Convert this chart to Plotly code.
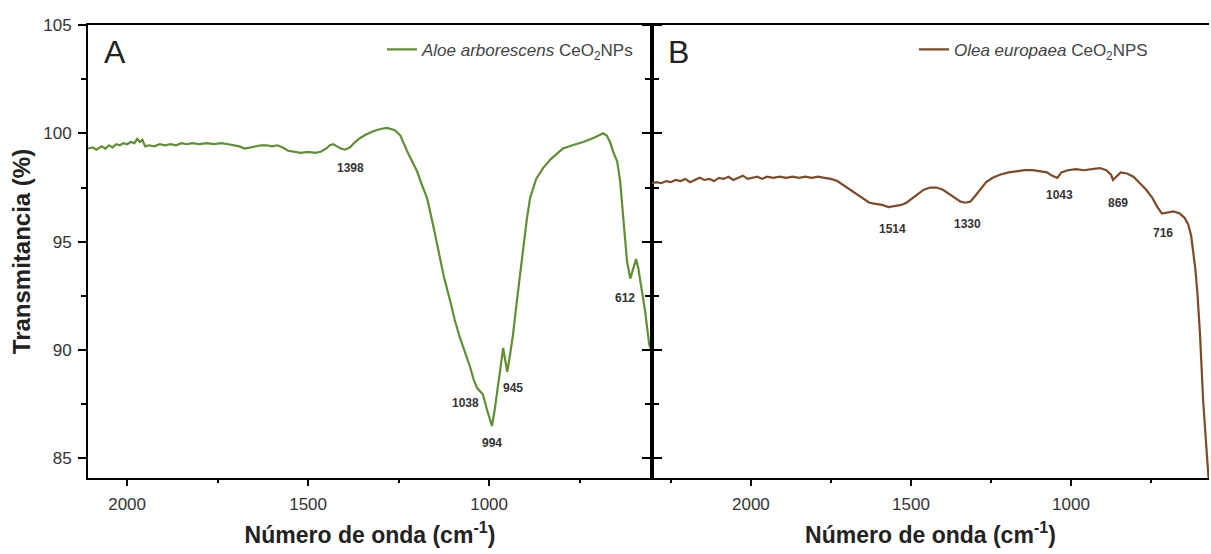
import plotly.graph_objects as go

# ---- Data: Aloe arborescens CeO2NPs (panel A) ----
wn_aloe = [2108, 2095, 2085, 2070, 2060, 2050, 2040, 2030, 2020, 2010, 2000, 1990, 1980,
           1972, 1965, 1958, 1950, 1940, 1925, 1910, 1895, 1880, 1865, 1850, 1835, 1820,
           1800, 1780, 1760, 1740, 1720, 1705, 1690, 1675, 1660, 1645, 1630, 1615, 1600,
           1585, 1570, 1555, 1540, 1520, 1500, 1480, 1465, 1450, 1440, 1430, 1420, 1410,
           1398, 1385, 1370, 1355, 1340, 1320, 1300, 1282, 1260, 1245, 1227, 1213, 1199,
           1185, 1171, 1155, 1141, 1125, 1108, 1095, 1080, 1066, 1052, 1042, 1033, 1025,
           1017, 1005, 992, 984, 975, 967, 961, 955, 950, 942, 934, 923, 914, 906, 896,
           887, 870, 851, 830, 810, 796, 770, 740, 710, 695, 685, 675, 666, 656, 646,
           638, 630, 619, 610, 602, 594, 588, 583, 576, 569, 558, 550]
t_aloe = [99.3, 99.35, 99.25, 99.4, 99.3, 99.45, 99.35, 99.5, 99.45, 99.55, 99.5, 99.6, 99.55,
          99.75, 99.6, 99.7, 99.4, 99.45, 99.4, 99.5, 99.45, 99.5, 99.45, 99.55, 99.5, 99.55,
          99.5, 99.55, 99.5, 99.55, 99.5, 99.45, 99.4, 99.3, 99.35, 99.4, 99.45, 99.45, 99.4,
          99.45, 99.35, 99.2, 99.15, 99.1, 99.15, 99.1, 99.15, 99.3, 99.45, 99.5, 99.4, 99.3,
          99.25, 99.35, 99.6, 99.8, 99.95, 100.1, 100.2, 100.25, 100.15, 99.9, 99.2, 98.7, 98.25,
          97.6, 97.0, 95.8, 94.6, 93.4, 92.3, 91.4, 90.55, 89.9, 89.2, 88.6, 88.25, 88.1,
          87.95, 87.2, 86.5, 87.3, 88.4, 89.4, 90.1, 89.5, 89.0, 89.8, 90.7, 92.3, 93.6, 94.6, 96.0,
          97.0, 97.9, 98.4, 98.8, 99.1, 99.3, 99.45, 99.6, 99.8, 99.9, 100.0, 99.9, 99.6, 99.1, 98.7,
          97.8, 96.1, 94.1, 93.3, 93.8, 94.2, 93.8, 93.3, 92.6, 91.8, 90.3, 89.8]

# ---- Data: Olea europaea CeO2NPS (panel B) ----
wn_olea = [2309, 2295, 2280, 2265, 2250, 2235, 2220, 2205, 2190, 2175, 2160, 2145, 2130,
           2115, 2100, 2085, 2070, 2055, 2040, 2025, 2010, 1995, 1980, 1965, 1950, 1930,
           1910, 1890, 1870, 1850, 1830, 1810, 1790, 1770, 1750, 1730, 1710, 1690, 1670,
           1650, 1630, 1610, 1590, 1570, 1550, 1530, 1514, 1500, 1480, 1460, 1440, 1420,
           1400, 1380, 1360, 1345, 1330, 1315, 1300, 1285, 1265, 1245, 1220, 1195, 1170,
           1145, 1120, 1095, 1075, 1060, 1043, 1030, 1010, 985, 960, 935, 910, 890, 875,
           869, 860, 845, 825, 805, 785, 765, 745, 730, 716, 700, 680, 660, 645, 634, 625,
           619, 612, 605, 597, 587, 580, 575, 570]
t_olea = [97.7, 97.75, 97.7, 97.8, 97.75, 97.85, 97.8, 97.9, 97.75, 97.85, 97.95, 97.85, 97.9,
          97.8, 97.95, 97.9, 98.0, 97.85, 97.95, 98.05, 97.9, 97.95, 98.0, 97.9, 98.0, 97.95,
          98.0, 97.95, 98.0, 97.95, 98.0, 97.95, 98.0, 97.95, 97.9, 97.8, 97.6, 97.4, 97.2,
          97.0, 96.8, 96.75, 96.7, 96.6, 96.65, 96.7, 96.8, 96.95, 97.2, 97.4, 97.5, 97.5,
          97.4, 97.2, 97.0, 96.85, 96.8, 96.85, 97.1, 97.4, 97.75, 97.95, 98.1, 98.2, 98.25,
          98.3, 98.3, 98.25, 98.2, 98.05, 97.95, 98.2, 98.3, 98.35, 98.3, 98.35, 98.4, 98.3, 98.1,
          97.85, 98.0, 98.2, 98.15, 98.0, 97.7, 97.4, 97.0, 96.6, 96.3, 96.35, 96.4, 96.3, 96.1, 95.8,
          95.3, 94.6, 93.8, 92.6, 90.7, 87.6, 86.2, 85.3, 84.0]

# ---- Peak labels ----
lab_a_text = ["1398", "1038", "945", "994", "612"]
lab_a_x = [1384, 1066, 934, 992, 624]
lab_a_y = [98.4, 87.55, 88.25, 85.7, 92.4]
lab_b_text = ["1514", "1330", "1043", "869", "716"]
lab_b_x = [1559, 1322, 1037, 853, 713]
lab_b_y = [95.6, 95.8, 97.15, 96.8, 95.4]

y_ticks = [85, 90, 95, 100, 105]
x_ticks = [2000, 1500, 1000]

GREEN = "#5f8f33"
BROWN = "#7d4b27"
FONT = "Liberation Sans, Arial, sans-serif"
SPLIT = 0.5031

fig = go.Figure()
fig.add_trace(go.Scatter(x=wn_aloe, y=t_aloe, mode="lines", xaxis="x", yaxis="y",
                         line=dict(color=GREEN, width=2.2), showlegend=True,
                         name="<i>Aloe arborescens</i> CeO<sub>2</sub>NPs", legend="legend"))
fig.add_trace(go.Scatter(x=wn_olea, y=t_olea, mode="lines", xaxis="x2", yaxis="y2",
                         line=dict(color=BROWN, width=2.2), showlegend=True,
                         name="<i>Olea europaea</i> CeO<sub>2</sub>NPS", legend="legend2"))

axis_common = dict(showline=True, linecolor="black", linewidth=2, showgrid=False,
                   zeroline=False, ticks="outside", tickcolor="black", tickwidth=2,
                   automargin=False,
                   tickfont=dict(family=FONT, size=17, color="#333"))

title_font = dict(family=FONT, size=23, color="#222")

fig.update_layout(
    width=1211, height=554,
    margin=dict(l=88, r=2, t=25, b=76),
    paper_bgcolor="white", plot_bgcolor="white",
    showlegend=True,
    font=dict(family=FONT, color="#333"),
    xaxis=dict(domain=[0, SPLIT], range=[2108, 550], anchor="y", tickvals=x_ticks,
               ticklen=6, mirror=True, ticklabelstandoff=4,
               minor=dict(dtick=250, tick0=0, ticks="outside", ticklen=3, tickwidth=2, tickcolor="black"),
               title=dict(text="<b>Número de onda (cm<sup>-1</sup>)</b>", font=title_font, standoff=13),
               **axis_common),
    yaxis=dict(domain=[0, 1], range=[84.1, 105], anchor="x", tickvals=y_ticks, ticklen=8,
               mirror="allticks", ticklabelstandoff=3,
               minor=dict(dtick=2.5, tick0=0, ticks="outside", ticklen=5, tickwidth=2, tickcolor="black"),
               title=dict(text="<b>Transmitancia (%)</b>", font=dict(family=FONT, size=24, color="#222"), standoff=6),
               **axis_common),
    xaxis2=dict(domain=[SPLIT, 1], range=[2309, 569], anchor="y2", tickvals=x_ticks,
                ticklen=6, mirror=True, ticklabelstandoff=4,
                minor=dict(dtick=250, tick0=0, ticks="outside", ticklen=3, tickwidth=2, tickcolor="black"),
                title=dict(text="<b>Número de onda (cm<sup>-1</sup>)</b>", font=title_font, standoff=13),
                **axis_common),
    yaxis2=dict(domain=[0, 1], range=[84.1, 105], anchor="x2", tickvals=y_ticks, ticklen=8,
                showticklabels=False,
                minor=dict(dtick=2.5, tick0=0, ticks="outside", ticklen=5, tickwidth=2, tickcolor="black"),
                **axis_common),
    legend=dict(x=0.4915, y=0.985, xanchor="right", yanchor="top", bgcolor="rgba(0,0,0,0)",
                font=dict(family=FONT, size=17, color="#444")),
    legend2=dict(x=0.95, y=0.985, xanchor="right", yanchor="top", bgcolor="rgba(0,0,0,0)",
                 font=dict(family=FONT, size=17, color="#444")),
)

annotations = [
    dict(text="A", xref="x domain", yref="y domain", x=0.047, y=0.94, showarrow=False,
         xanchor="center", yanchor="middle", font=dict(family=FONT, size=32, color="#222")),
    dict(text="B", xref="x2 domain", yref="y2 domain", x=0.047, y=0.94, showarrow=False,
         xanchor="center", yanchor="middle", font=dict(family=FONT, size=32, color="#222")),
]
for t, xv, yv in zip(lab_a_text, lab_a_x, lab_a_y):
    annotations.append(dict(text="<b>" + t + "</b>", x=xv, y=yv, xref="x", yref="y", showarrow=False,
                            font=dict(family=FONT, size=12, color="#333")))
for t, xv, yv in zip(lab_b_text, lab_b_x, lab_b_y):
    annotations.append(dict(text="<b>" + t + "</b>", x=xv, y=yv, xref="x2", yref="y2", showarrow=False,
                            font=dict(family=FONT, size=12, color="#333")))
fig.update_layout(annotations=annotations)

fig.write_html("out.html")
